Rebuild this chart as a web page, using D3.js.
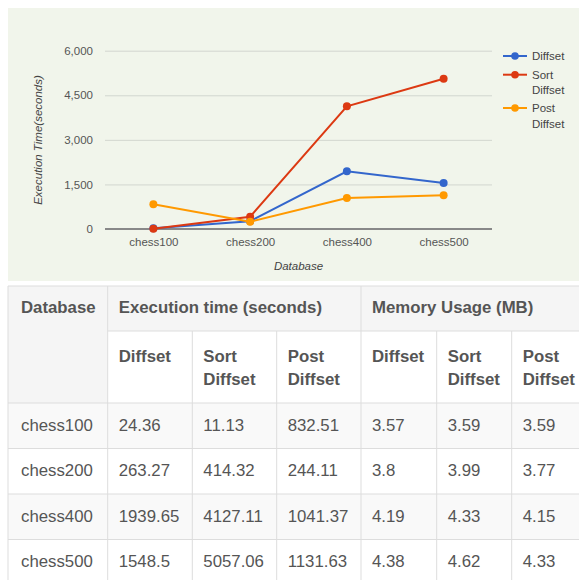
<html>
<head>
<meta charset="utf-8">
<title>Execution time chart</title>
<style>
  body { margin: 0; background: #fff; }
  svg { display: block; font-family: "Liberation Sans", Arial, sans-serif; }
</style>
</head>
<body>
<svg id="svg" width="579" height="580"></svg>
<script src="https://d3js.org/d3.v7.min.js"></script>
<script>
// data
const databases = ["chess100", "chess200", "chess400", "chess500"];
const seriesNames = ["Diffset", "Sort Diffset", "Post Diffset"];
const diffsetTime = [24.36, 263.27, 1939.65, 1548.5];
const sortDiffsetTime = [11.13, 414.32, 4127.11, 5057.06];
const postDiffsetTime = [832.51, 244.11, 1041.37, 1131.63];
const diffsetMem = ["3.57", "3.8", "4.19", "4.38"];
const sortDiffsetMem = ["3.59", "3.99", "4.33", "4.62"];
const postDiffsetMem = ["3.59", "3.77", "4.15", "4.33"];
const yTicks = [0, 1500, 3000, 4500, 6000];
const colors = ["#3366cc", "#dc3912", "#ff9900"];

const svg = d3.select("#svg");

// chart panel
svg.append("rect").attr("x", 8).attr("y", 8).attr("width", 571).attr("height", 273)
  .attr("fill", "#f1f5eb");

const x = d3.scalePoint().domain(databases).range([105, 492]).padding(0.5);
const y = d3.scaleLinear().domain([0, 6000]).range([229, 50.7]);

const gy = svg.append("g").attr("transform", "translate(105,0)")
  .call(d3.axisLeft(y).tickValues(yTicks).tickFormat(d3.format(",")).tickSize(-387).tickPadding(12));
gy.select(".domain").remove();
gy.selectAll("line").attr("stroke", "#d3d6cf");
gy.selectAll("text").attr("fill", "#555").style("font-size", "11.5px");

const gx = svg.append("g").attr("transform", "translate(0,229)")
  .call(d3.axisBottom(x).tickSize(0).tickPadding(9));
gx.select(".domain").remove();
gx.selectAll("text").attr("fill", "#555").style("font-size", "11.5px");

svg.append("line").attr("x1", 105).attr("x2", 492).attr("y1", y(0)).attr("y2", y(0))
  .attr("stroke", "#888").attr("stroke-width", 2);

svg.append("text").attr("x", 298.5).attr("y", 270).attr("text-anchor", "middle")
  .attr("fill", "#444").style("font-size", "11.5px").style("font-style", "italic").text("Database");
svg.append("text").attr("transform", "translate(42,140)rotate(-90)").attr("text-anchor", "middle")
  .attr("fill", "#444").style("font-size", "11.5px").style("font-style", "italic")
  .text("Execution Time(seconds)");

const series = [diffsetTime, sortDiffsetTime, postDiffsetTime];
const line = d3.line().x((d, i) => x(databases[i])).y(d => y(d));
series.forEach((vals, k) => {
  const g = svg.append("g");
  g.append("path").attr("d", line(vals)).attr("fill", "none")
    .attr("stroke", colors[k]).attr("stroke-width", 2);
  g.selectAll("circle").data(vals).enter().append("circle")
    .attr("cx", (d, i) => x(databases[i])).attr("cy", d => y(d)).attr("r", 4)
    .attr("fill", colors[k]);
});

// legend
const legendY = [56, 74.7, 108];
seriesNames.forEach((name, k) => {
  const g = svg.append("g").attr("transform", "translate(0," + legendY[k] + ")");
  g.append("line").attr("x1", 503).attr("x2", 527).attr("stroke", colors[k]).attr("stroke-width", 2);
  g.append("circle").attr("cx", 515).attr("r", 3.8).attr("fill", colors[k]);
  const words = name.split(" ");
  words.forEach((w, j) => {
    g.append("text").attr("x", 532).attr("y", j * 15.7).attr("dy", "0.35em")
      .attr("fill", "#444").style("font-size", "11.5px").text(w);
  });
});

// table
const colX = [8, 107.7, 192.3, 276.7, 361, 436.7, 511.7, 587];
const rowY = [286, 331, 403, 448.5, 494, 539.5, 585];
const border = "#dddddd";
const pad = 11;
const tfont = "16.8px";
const tcolor = "#555";

// header backgrounds
svg.append("rect").attr("x", colX[0]).attr("y", rowY[0]).attr("width", colX[7] - colX[0])
  .attr("height", rowY[1] - rowY[0]).attr("fill", "#f5f5f5");
svg.append("rect").attr("x", colX[0]).attr("y", rowY[1]).attr("width", colX[1] - colX[0])
  .attr("height", rowY[2] - rowY[1]).attr("fill", "#f5f5f5");
// striped rows
databases.forEach((d, i) => {
  svg.append("rect").attr("x", colX[0]).attr("y", rowY[i + 2]).attr("width", colX[7] - colX[0])
    .attr("height", rowY[i + 3] - rowY[i + 2]).attr("fill", i % 2 === 0 ? "#f9f9f9" : "#ffffff");
});

const tb = svg.append("g").attr("stroke", border).attr("stroke-width", 1);
// horizontal lines
tb.append("line").attr("x1", colX[0]).attr("x2", colX[7]).attr("y1", rowY[0]).attr("y2", rowY[0]);
tb.append("line").attr("x1", colX[1]).attr("x2", colX[7]).attr("y1", rowY[1]).attr("y2", rowY[1]);
rowY.slice(2).forEach(yy => {
  tb.append("line").attr("x1", colX[0]).attr("x2", colX[7]).attr("y1", yy).attr("y2", yy);
});
// vertical lines
[0, 1, 4].forEach(c => {
  tb.append("line").attr("x1", colX[c]).attr("x2", colX[c]).attr("y1", rowY[0]).attr("y2", 585);
});
[2, 3, 5, 6].forEach(c => {
  tb.append("line").attr("x1", colX[c]).attr("x2", colX[c]).attr("y1", rowY[1]).attr("y2", 585);
});

function cell(txt, cx, yy, bold) {
  svg.append("text").attr("x", cx + pad).attr("y", yy).attr("fill", tcolor)
    .style("font-size", tfont).style("font-weight", bold ? "bold" : "normal").text(txt);
}

cell("Database", colX[0] + 2, 313.3, true);
cell("Execution time (seconds)", colX[1], 313.3, true);
cell("Memory Usage (MB)", colX[4], 313.3, true);
const subHeads = [["Diffset"], ["Sort", "Diffset"], ["Post", "Diffset"]];
[1, 2, 3, 4, 5, 6].forEach((c, k) => {
  subHeads[k % 3].forEach((w, j) => cell(w, colX[c], 361.7 + j * 23.4, true));
});

const dataCols = [databases, diffsetTime, sortDiffsetTime, postDiffsetTime, diffsetMem, sortDiffsetMem, postDiffsetMem];
databases.forEach((d, i) => {
  dataCols.forEach((col, c) => {
    cell(String(col[i]), colX[c] + (c === 0 ? 2 : 0), rowY[i + 2] + 27.7, false);
  });
});
</script>
</body>
</html>
